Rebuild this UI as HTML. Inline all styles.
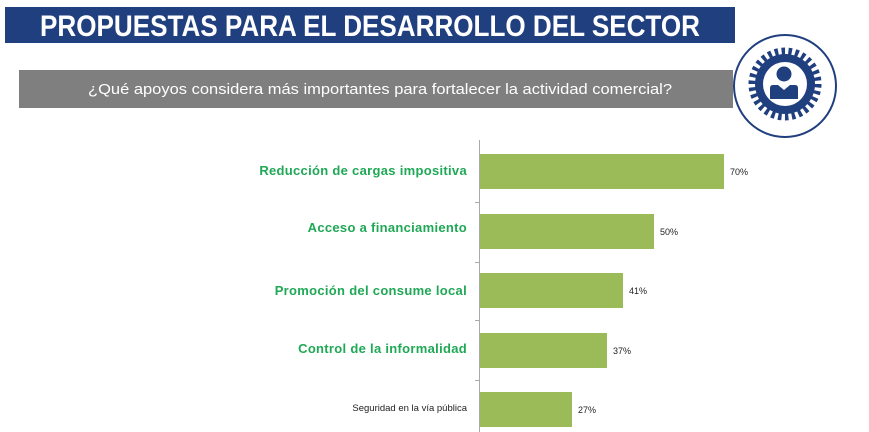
<!DOCTYPE html>
<html><head><meta charset="utf-8"><style>
body{margin:0;width:869px;height:432px;background:#fff;position:relative;overflow:hidden;font-family:"Liberation Sans",sans-serif}
.bar{position:absolute;left:480px;height:35px;background:#9bbb59}
.v{position:absolute;font-size:9px;color:#222}
.l{position:absolute;right:402px;text-align:right;color:#1fa855;font-weight:bold;font-size:13px;letter-spacing:0.3px;white-space:nowrap}
.tk{position:absolute;left:475px;width:5px;height:1px;background:#aaa}
</style></head><body>
<svg style="position:absolute;left:0;top:0" width="869" height="432">
<rect x="5" y="7" width="730" height="36" fill="#203f7f"/>
<text x="40" y="36" textLength="660" lengthAdjust="spacingAndGlyphs" font-family="Liberation Sans" font-weight="bold" font-size="30" fill="#fff">PROPUESTAS PARA EL DESARROLLO DEL SECTOR</text>
<rect x="19" y="70" width="714" height="38" fill="#7f7f7f"/>
<text x="88" y="94" textLength="584" lengthAdjust="spacingAndGlyphs" font-family="Liberation Sans" font-size="15" fill="#fff">¿Qué apoyos considera más importantes para fortalecer la actividad comercial?</text>
<circle cx="785" cy="86" r="51" fill="#fff" stroke="#203f7f" stroke-width="2"/>
<circle cx="785" cy="84" r="33" fill="none" stroke="#203f7f" stroke-width="7" stroke-dasharray="3.5 3.4"/>
<circle cx="785" cy="84" r="30" fill="#203f7f"/>
<circle cx="785" cy="84" r="22" fill="#fff"/>
<circle cx="784" cy="74" r="7.5" fill="#203f7f"/>
<path d="M770 99 v-11 q0-3 3-3 h5 l6 5 l6 -5 h5 q3 0 3 3 v11 z" fill="#203f7f"/>
<line x1="479.5" y1="140" x2="479.5" y2="432" stroke="#aaa"/>
</svg>
<div class="tk" style="top:202px"></div><div class="tk" style="top:262px"></div><div class="tk" style="top:320px"></div><div class="tk" style="top:380px"></div>
<div class="bar" style="top:154px;width:244px"></div>
<div class="bar" style="top:214px;width:174px"></div>
<div class="bar" style="top:273px;width:143px"></div>
<div class="bar" style="top:333px;width:127px"></div>
<div class="bar" style="top:392px;width:92px"></div>
<div class="v" style="left:730px;top:167px">70%</div>
<div class="v" style="left:660px;top:227px">50%</div>
<div class="v" style="left:629px;top:286px">41%</div>
<div class="v" style="left:613px;top:346px">37%</div>
<div class="v" style="left:578px;top:405px">27%</div>
<div class="l" style="top:163px">Reducción de cargas impositiva</div>
<div class="l" style="top:220px">Acceso a financiamiento</div>
<div class="l" style="top:283px">Promoción del consume local</div>
<div class="l" style="top:341px">Control de la informalidad</div>
<div class="l" style="top:403px;color:#222;font-weight:normal;font-size:9.5px;letter-spacing:0">Seguridad en la vía pública</div>
</body></html>
